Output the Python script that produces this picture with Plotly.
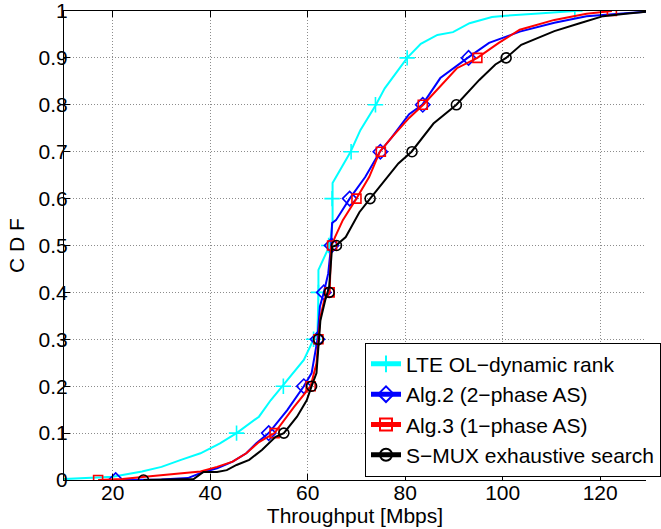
import plotly.graph_objects as go

# ---------------- data ----------------
names = ["LTE OL\u2212dynamic rank", "Alg.2 (2\u2212phase AS)",
         "Alg.3 (1\u2212phase AS)", "S\u2212MUX exhaustive search"]
colors = ["#00FFFF", "#0000FF", "#FF0000", "#000000"]
symbols = ["cross-thin", "diamond-open", "square-open", "circle-open"]

lte_x = [10, 20, 26, 30, 34, 38, 42, 45.4, 50, 52.4, 54.8, 59.2, 61.2, 62.0, 62.2, 62.2,
         64.5, 65.1, 65.1, 68.8, 70.8, 74.0, 75.8, 80.4, 83.2, 86.6, 89.8, 93.2, 97.8,
         100.6, 106.6, 114.8]
lte_p = [0.002, 0.007, 0.018, 0.028, 0.043, 0.057, 0.078, 0.1, 0.135, 0.17, 0.2, 0.256,
         0.3, 0.313, 0.4, 0.448, 0.5, 0.55, 0.633, 0.7, 0.746, 0.8, 0.835, 0.9, 0.93,
         0.949, 0.955, 0.974, 0.987, 0.99, 0.994, 1.0]

alg2_x = [20.6, 30, 35.4, 38.6, 41.4, 44.6, 47.4, 49.4, 52.0, 55.8, 59.2, 60.8, 62.0,
          62.5, 63.3, 64.2, 64.8, 65.0, 65.8, 68.6, 71.8, 74.8, 77.2, 80.8, 83.5, 87.2,
          92.8, 95.8, 97.2, 103.5, 110.6, 117.2, 123.8, 130]
alg2_p = [0.0, 0.001, 0.004, 0.017, 0.025, 0.039, 0.057, 0.078, 0.1, 0.149, 0.2, 0.228,
          0.3, 0.37, 0.4, 0.44, 0.5, 0.548, 0.554, 0.6, 0.646, 0.7, 0.73, 0.78, 0.8,
          0.857, 0.9, 0.923, 0.932, 0.956, 0.975, 0.989, 0.994, 0.999]

alg3_x = [17.0, 22, 26.6, 33.4, 38.0, 41.4, 44.6, 47.4, 50.0, 53.2, 57.2, 60.6, 61.8,
          62.2, 62.6, 63.4, 64.5, 64.8, 65.6, 67.2, 70.0, 72.6, 74.8, 77.2, 80.8, 83.7,
          90.6, 94.8, 99.2, 103.5, 110.6, 117.2, 122.4]
alg3_p = [0.0, 0.002, 0.007, 0.013, 0.018, 0.028, 0.039, 0.057, 0.081, 0.1, 0.156, 0.2,
          0.249, 0.3, 0.348, 0.384, 0.4, 0.497, 0.518, 0.554, 0.6, 0.646, 0.7, 0.73,
          0.772, 0.8, 0.878, 0.9, 0.932, 0.96, 0.981, 0.994, 1.0]

smux_x = [26.3, 33, 36.6, 38.6, 41.4, 43.4, 45.4, 48.0, 50.6, 53.4, 55.1, 57.8, 59.8,
          60.8, 61.8, 62.2, 62.6, 63.6, 64.4, 65.0, 65.8, 67.8, 70.6, 72.8, 75.8, 78.6,
          81.3, 85.8, 90.5, 95.2, 98.5, 100.7, 103.8, 110.6, 115.8, 120.6, 125.2, 130]
smux_p = [0.0, 0.001, 0.002, 0.017, 0.017, 0.021, 0.032, 0.043, 0.064, 0.092, 0.1, 0.135,
          0.17, 0.2, 0.228, 0.285, 0.34, 0.384, 0.412, 0.497, 0.5, 0.518, 0.571, 0.6,
          0.64, 0.675, 0.7, 0.76, 0.8, 0.853, 0.886, 0.9, 0.928, 0.957, 0.974, 0.989,
          0.994, 0.999]

# marker positions (every 0.1 of the CDF)
lte_mx = [45.4, 55.0, 61.2, 62.2, 64.3, 65.0, 68.9, 73.9, 80.4, 114.8]
lte_mp = [0.1, 0.2, 0.3, 0.4, 0.5, 0.6, 0.7, 0.8, 0.9, 1.0]
alg2_mx = [20.6, 52.0, 59.2, 62.0, 63.3, 64.9, 68.6, 74.9, 83.6, 93.0]
alg2_mp = [0.0, 0.1, 0.2, 0.3, 0.4, 0.5, 0.6, 0.7, 0.8, 0.9]
alg3_mx = [17.0, 53.2, 60.6, 62.2, 64.5, 65.0, 70.0, 75.0, 83.6, 94.8, 122.4]
alg3_mp = [0.0, 0.1, 0.2, 0.3, 0.4, 0.5, 0.6, 0.7, 0.8, 0.9, 1.0]
smux_mx = [26.3, 55.1, 60.8, 62.2, 64.4, 65.9, 72.8, 81.4, 90.5, 100.7]
smux_mp = [0.0, 0.1, 0.2, 0.3, 0.4, 0.5, 0.6, 0.7, 0.8, 0.9]

x_ticks = [20, 40, 60, 80, 100, 120]
y_ticks = [0, 0.1, 0.2, 0.3, 0.4, 0.5, 0.6, 0.7, 0.8, 0.9, 1]
y_ticktext = ["0", "0.1", "0.2", "0.3", "0.4", "0.5", "0.6", "0.7", "0.8", "0.9", "1"]

# ---------------- figure ----------------
lines = [(lte_x, lte_p), (alg2_x, alg2_p), (alg3_x, alg3_p), (smux_x, smux_p)]
marks = [(lte_mx, lte_mp), (alg2_mx, alg2_mp), (alg3_mx, alg3_mp), (smux_mx, smux_mp)]
msizes = [11, 11, 9, 10]

FONT = "Liberation Sans, Arial, sans-serif"
FS = 21
fig = go.Figure()
for i in range(4):
    fig.add_trace(go.Scatter(x=lines[i][0], y=lines[i][1], mode="lines",
                             line=dict(color=colors[i], width=2), showlegend=False,
                             hoverinfo="skip"))
    fig.add_trace(go.Scatter(x=marks[i][0], y=marks[i][1], mode="markers",
                             marker=dict(symbol=symbols[i], size=msizes[i], color=colors[i],
                                         line=dict(color=colors[i], width=1.6)),
                             showlegend=False))
for i in range(4):
    fig.add_trace(go.Scatter(x=[None], y=[None], mode="lines+markers", name=names[i],
                             line=dict(color=colors[i], width=2),
                             marker=dict(symbol=symbols[i], size=msizes[i] - 1, color=colors[i],
                                         line=dict(color=colors[i], width=1.6))))

grid = dict(showgrid=True, gridcolor="rgb(140,140,140)", griddash="1px,2px", gridwidth=1,
            zeroline=False, ticks="inside", ticklen=6, tickcolor="black", showline=True,
            linecolor="black", linewidth=1.2, ticklabeloverflow="allow",
            tickfont=dict(family=FONT, size=FS, color="black"))

fig.update_layout(
    width=661, height=529, autosize=False,
    margin=dict(l=64, r=0, t=11, b=49, pad=0),
    paper_bgcolor="white", plot_bgcolor="white",
    font=dict(family=FONT, size=FS, color="black"),
    legend=dict(x=(373 - 64) / 597, y=0.007, xanchor="left", yanchor="bottom",
                bgcolor="white", bordercolor="black", borderwidth=1,
                font=dict(family=FONT, size=FS, color="black"), itemsizing="constant",
                tracegroupgap=0),
    xaxis=dict(range=[10, 129.4], tickvals=x_ticks, mirror="ticks",
               ticklabelstandoff=-6,
               title=dict(text="Throughput [Mbps]", standoff=0,
                          font=dict(family=FONT, size=FS, color="black")),
               **grid),
    yaxis=dict(range=[0, 1], tickvals=y_ticks, ticktext=y_ticktext, mirror=False,
               ticklabelstandoff=-9,
               title=dict(text="C D F", standoff=8,
                          font=dict(family=FONT, size=FS, color="black")),
               **grid),
)

fig.write_html("out.html")
